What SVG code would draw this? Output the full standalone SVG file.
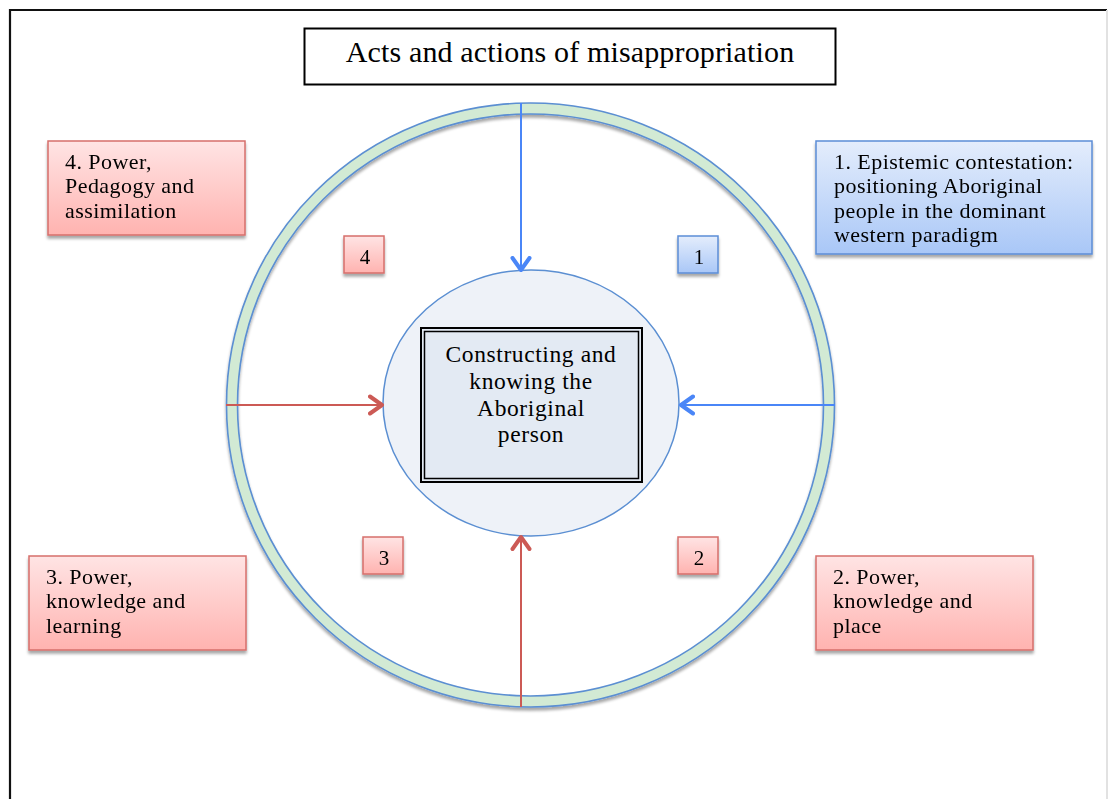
<svg xmlns="http://www.w3.org/2000/svg" width="1110" height="799" viewBox="0 0 1110 799">
  <style>
    .t { font-family: "Liberation Serif", "Times New Roman", serif; fill: #000; }
    .box { font-size: 22px; letter-spacing: 0.45px; }
    .num { font-size: 21px; text-anchor: middle; }
    .red { fill: url(#gRed); stroke: #d66f6b; stroke-width: 1.5; }
    .blue { fill: url(#gBlue); stroke: #5c8dd6; stroke-width: 1.5; }
    .ab { stroke: #4a86f7; stroke-width: 2; fill: none; }
    .ar { stroke: #cc5a55; stroke-width: 2; fill: none; }
  </style>
  <defs>
    <linearGradient id="gRed" x1="0" y1="0" x2="0" y2="1">
      <stop offset="0" stop-color="#ffe4e4"/>
      <stop offset="1" stop-color="#ffb3b0"/>
    </linearGradient>
    <linearGradient id="gBlue" x1="0" y1="0" x2="0" y2="1">
      <stop offset="0" stop-color="#e4edfc"/>
      <stop offset="1" stop-color="#a9c7f7"/>
    </linearGradient>
    <filter id="sh" x="-10%" y="-10%" width="120%" height="130%">
      <feGaussianBlur in="SourceAlpha" stdDeviation="1.8"/>
      <feOffset dx="0" dy="2.5" result="b"/>
      <feComponentTransfer><feFuncA type="linear" slope="0.35"/></feComponentTransfer>
      <feMerge><feMergeNode/><feMergeNode in="SourceGraphic"/></feMerge>
    </filter>
    <marker id="mB" markerWidth="18" markerHeight="22" refX="14" refY="11" orient="auto" markerUnits="userSpaceOnUse">
      <path d="M2,2.5 L14,11 L2,19.5" fill="none" stroke="#4a86f7" stroke-width="4" stroke-linecap="round" stroke-linejoin="round"/>
    </marker>
    <marker id="mR" markerWidth="18" markerHeight="22" refX="14" refY="11" orient="auto" markerUnits="userSpaceOnUse">
      <path d="M2,2.5 L14,11 L2,19.5" fill="none" stroke="#cc5a55" stroke-width="4" stroke-linecap="round" stroke-linejoin="round"/>
    </marker>
  </defs>

  <rect width="1110" height="799" fill="#fff"/>
  <g id="page">
    <path d="M10,800 L10,10 L1107,10" fill="none" stroke="#111" stroke-width="2.2"/>
    <line x1="1107" y1="10" x2="1107" y2="799" stroke="#e2e2e2" stroke-width="2"/>
  </g>

  <g id="title">
    <rect x="304.5" y="28.5" width="531" height="56" fill="#fff" stroke="#000" stroke-width="2"/>
    <text class="t" x="570" y="62" font-size="30" letter-spacing="0.15" text-anchor="middle">Acts and actions of misappropriation</text>
  </g>

  <g id="ring" filter="url(#sh)">
    <ellipse cx="530.5" cy="405" rx="298.5" ry="296.5" fill="none" stroke="#d2ead4" stroke-width="11"/>
    <ellipse cx="530.5" cy="405" rx="304" ry="302" fill="none" stroke="#5b8fd2" stroke-width="1.6"/>
    <ellipse cx="530.5" cy="405" rx="293" ry="291" fill="none" stroke="#5b8fd2" stroke-width="1.6"/>
  </g>

  <g id="inner">
    <ellipse cx="531" cy="403" rx="148" ry="133" fill="#eef2f8" stroke="#5b8fd2" stroke-width="1.5"/>
  </g>

  <g id="center">
    <rect x="421" y="328" width="221" height="154" fill="#e3eaf3" stroke="#000" stroke-width="2"/>
    <rect x="424.5" y="331.5" width="214" height="147" fill="none" stroke="#000" stroke-width="1.5"/>
    <g class="t" font-size="23.5" text-anchor="middle" letter-spacing="0.6">
      <text x="531" y="362">Constructing and</text>
      <text x="531" y="389">knowing the</text>
      <text x="531" y="416">Aboriginal</text>
      <text x="531" y="442">person</text>
    </g>
  </g>

  <g id="connectors">
    <line class="ab" x1="521" y1="103" x2="521" y2="270" marker-end="url(#mB)"/>
    <line class="ab" x1="835" y1="405" x2="681" y2="405" marker-end="url(#mB)"/>
    <line class="ar" x1="226" y1="405" x2="382" y2="405" marker-end="url(#mR)"/>
    <line class="ar" x1="521" y1="707" x2="521" y2="537" marker-end="url(#mR)"/>
  </g>

  <g id="label1" filter="url(#sh)">
    <rect class="blue" x="816" y="141" width="276" height="113"/>
    <text class="t box" x="834" y="169">1. Epistemic contestation:</text>
    <text class="t box" x="834" y="193">positioning Aboriginal</text>
    <text class="t box" x="834" y="218">people in the dominant</text>
    <text class="t box" x="834" y="242">western paradigm</text>
  </g>
  <g id="label2" filter="url(#sh)">
    <rect class="red" x="816" y="556" width="217" height="94"/>
    <text class="t box" x="833" y="584">2. Power,</text>
    <text class="t box" x="833" y="608">knowledge and</text>
    <text class="t box" x="833" y="633">place</text>
  </g>
  <g id="label3" filter="url(#sh)">
    <rect class="red" x="29" y="556" width="217" height="94"/>
    <text class="t box" x="46" y="584">3. Power,</text>
    <text class="t box" x="46" y="608">knowledge and</text>
    <text class="t box" x="46" y="633">learning</text>
  </g>
  <g id="label4" filter="url(#sh)">
    <rect class="red" x="48" y="141" width="197" height="94"/>
    <text class="t box" x="65" y="169">4. Power,</text>
    <text class="t box" x="65" y="193">Pedagogy and</text>
    <text class="t box" x="65" y="218">assimilation</text>
  </g>

  <g id="n1" filter="url(#sh)">
    <rect class="blue" x="678" y="236" width="40" height="37"/>
    <text class="t num" x="699" y="264">1</text>
  </g>
  <g id="n2" filter="url(#sh)">
    <rect class="red" x="678" y="537" width="40" height="37"/>
    <text class="t num" x="699" y="565">2</text>
  </g>
  <g id="n3" filter="url(#sh)">
    <rect class="red" x="363" y="537" width="40" height="37"/>
    <text class="t num" x="384" y="565">3</text>
  </g>
  <g id="n4" filter="url(#sh)">
    <rect class="red" x="344" y="236" width="40" height="37"/>
    <text class="t num" x="365" y="264">4</text>
  </g>
</svg>
